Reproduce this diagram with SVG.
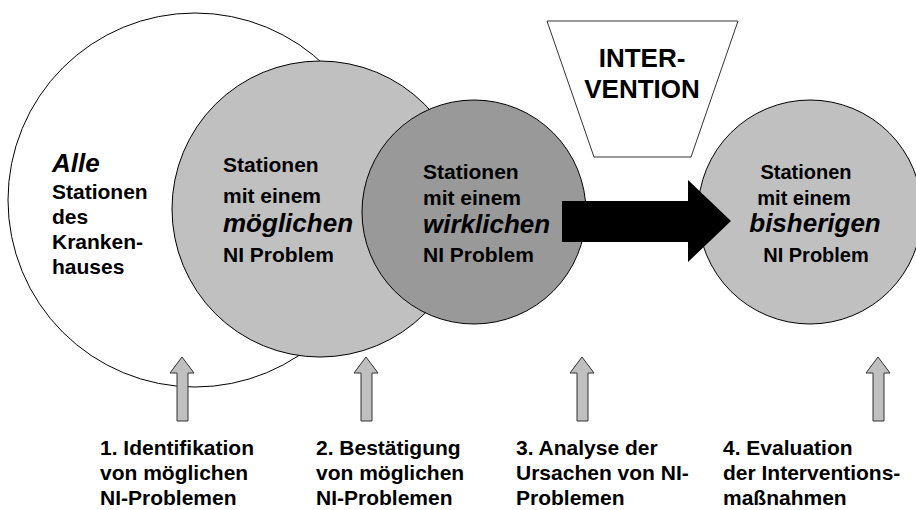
<svg xmlns="http://www.w3.org/2000/svg" width="916" height="510" viewBox="0 0 916 510">
<style>
.t{font-family:"Liberation Sans",Arial,sans-serif;font-weight:bold;font-size:21px;fill:#000}
.i{font-style:italic;font-size:26px}
.c{stroke:#000;stroke-width:1}
.ga{fill:#c0c0c0;stroke:#333;stroke-width:1}
</style>
<rect width="916" height="510" fill="#fff"/>
<g id="alle">
<circle class="c" cx="195" cy="200" r="187" fill="#fff"/>
<text class="t" x="52"><tspan class="i" x="52" y="172">Alle</tspan><tspan x="52" y="199">Stationen</tspan><tspan x="52" y="224">des</tspan><tspan x="52" y="249">Kranken-</tspan><tspan x="52" y="274">hauses</tspan></text>
</g>
<g id="moeglich">
<circle class="c" cx="320" cy="209" r="148" fill="#c0c0c0"/>
<text class="t"><tspan x="223" y="172">Stationen</tspan><tspan x="223" y="203">mit einem</tspan><tspan class="i" x="223" y="232">möglichen</tspan><tspan x="223" y="262">NI Problem</tspan></text>
</g>
<g id="wirklich">
<circle class="c" cx="474" cy="212" r="112" fill="#999"/>
<text class="t"><tspan x="423" y="179">Stationen</tspan><tspan x="423" y="205">mit einem</tspan><tspan class="i" x="423" y="233">wirklichen</tspan><tspan x="423" y="262">NI Problem</tspan></text>
</g>
<g id="bisherig">
<circle class="c" cx="810" cy="212" r="112" fill="#c0c0c0"/>
<text class="t" text-anchor="middle" style="font-size:20px"><tspan x="806" y="179">Stationen</tspan><tspan x="804" y="205">mit einem</tspan><tspan class="i" x="815" y="232">bisherigen</tspan><tspan x="816" y="262">NI Problem</tspan></text>
</g>
<g id="intervention">
<polygon points="547,21 738,21 691,157 594,157" fill="#fff" stroke="#333" stroke-width="1"/>
<text class="t" text-anchor="middle" style="font-size:26px"><tspan x="642" y="67">INTER-</tspan><tspan x="642" y="98">VENTION</tspan></text>
</g>
<g id="connectors">
<polygon points="562,201 688,201 688,180 731,221 688,262 688,242 562,242" fill="#000"/>
<polygon class="ga" points="182,357 194,373 188,373 188,421 177,421 177,373 170,373"/>
<polygon class="ga" points="366,357 378,373 372,373 372,421 361,421 361,373 354,373"/>
<polygon class="ga" points="582,357 594,373 588,373 588,421 577,421 577,373 570,373"/>
<polygon class="ga" points="878,357 890,373 884,373 884,421 873,421 873,373 866,373"/>
</g>
<g id="step1"><text class="t"><tspan x="100" y="455">1. Identifikation</tspan><tspan x="100" y="480">von möglichen</tspan><tspan x="100" y="505">NI-Problemen</tspan></text></g>
<g id="step2"><text class="t"><tspan x="316" y="455">2. Bestätigung</tspan><tspan x="316" y="480">von möglichen</tspan><tspan x="316" y="505">NI-Problemen</tspan></text></g>
<g id="step3"><text class="t"><tspan x="516" y="455">3. Analyse der</tspan><tspan x="516" y="480">Ursachen von NI-</tspan><tspan x="516" y="505">Problemen</tspan></text></g>
<g id="step4"><text class="t"><tspan x="723" y="455">4. Evaluation</tspan><tspan x="723" y="480">der Interventions-</tspan><tspan x="723" y="505">maßnahmen</tspan></text></g>
</svg>
